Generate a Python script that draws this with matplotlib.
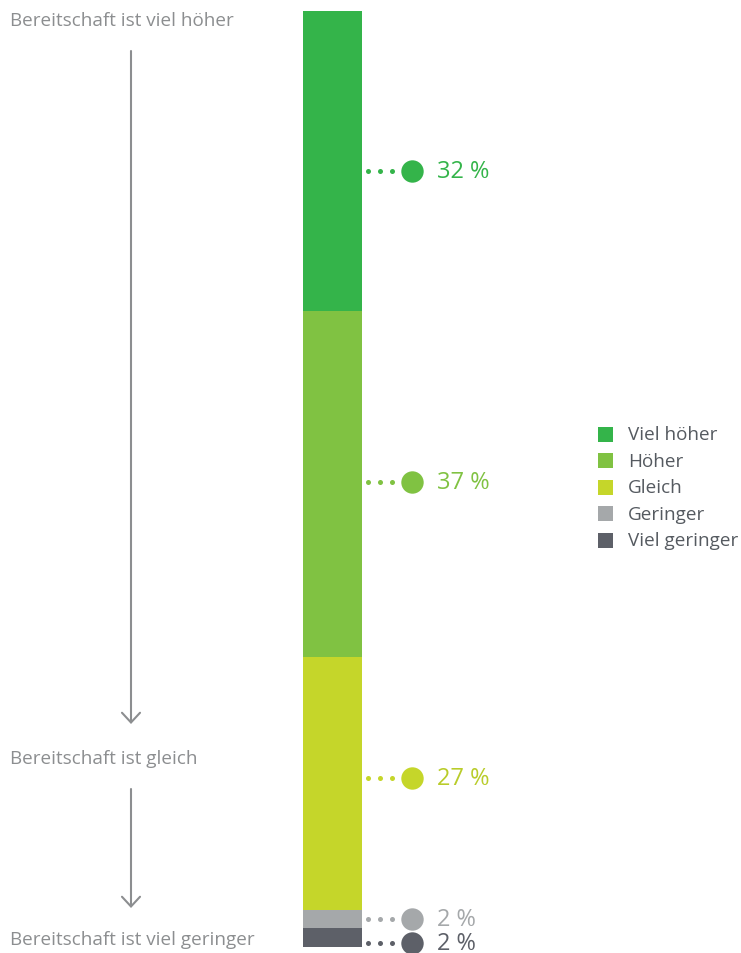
import matplotlib.pyplot as plt
from matplotlib.patches import FancyArrowPatch, Rectangle

plt.rcParams['font.family'] = ['Open Sans', 'DejaVu Sans']

categories = ["Viel höher", "Höher", "Gleich", "Geringer", "Viel geringer"]
values = [32, 37, 27, 2, 2]
colors = ["#34b44a", "#80c242", "#c5d62a", "#a5a8aa", "#5d6068"]
text_colors = ["#34b44a", "#80c242", "#b9cc2a", "#a5a8aa", "#5d6068"]
# where the callouts sit, in cumulative percent
label_pos = [17.1, 50.3, 81.9, 97.0, 99.6]
scale_labels = ["Bereitschaft ist viel höher", "Bereitschaft ist gleich",
                "Bereitschaft ist viel geringer"]

W, H = 741, 954
fig = plt.figure(figsize=(W / 100, H / 100), dpi=100)

# main axes: x in pixels, y in cumulative percent (bar spans px 12..948)
ax = fig.add_axes([0, (H - 948) / H, 1, 936 / H])
ax.set_xlim(0, W)
ax.set_ylim(100, 0)
ax.axis("off")

bottom = 0
for v, c in zip(values, colors):
    ax.bar(332.5, v, bottom=bottom, width=59, color=c, linewidth=0)
    bottom += v

for v, y, c, tc in zip(values, label_pos, colors, text_colors):
    ax.scatter([368, 380, 392], [y] * 3, s=13, color=c, linewidths=0, clip_on=False)
    ax.scatter([412], [y], s=260, color=c, linewidths=0, clip_on=False)
    ax.text(437, y, f"{v} %", color=tc, fontsize=17, va="center", ha="left")

# legend
for i, (cat, c) in enumerate(zip(categories, colors)):
    yc = 435 + i * 26.6
    fig.patches.append(Rectangle((598 / W, 1 - (yc + 7.5) / H), 15 / W, 15 / H,
                                 transform=fig.transFigure, color=c, linewidth=0))
    fig.text(628 / W, 1 - yc / H, cat, color="#555a60", fontsize=13.6,
             va="center", ha="left")

# left scale
gray = "#8c8e90"
for lab, y in zip(scale_labels, [21, 759, 940]):
    fig.text(10 / W, 1 - y / H, lab, color=gray, fontsize=13.6, va="center", ha="left")

for y0, y1 in [(52, 725), (790, 909)]:
    arr = FancyArrowPatch((131 / W, 1 - y0 / H), (131 / W, 1 - y1 / H),
                          transform=fig.transFigure,
                          arrowstyle="->,head_length=0.7,head_width=0.65",
                          mutation_scale=10, color=gray, lw=1.5,
                          shrinkA=0, shrinkB=0)
    fig.patches.append(arr)

fig.savefig("out.png", dpi=100)
